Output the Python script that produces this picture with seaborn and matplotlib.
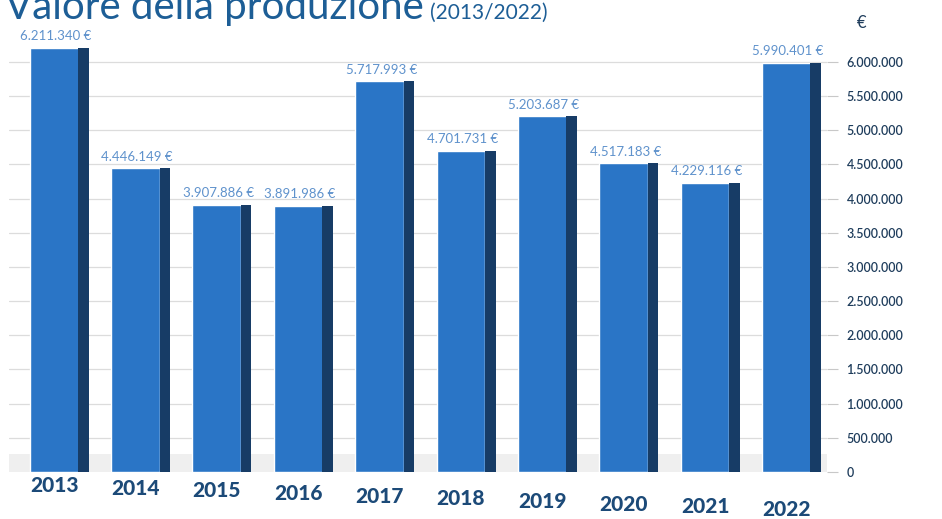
import numpy as np
import pandas as pd
import matplotlib
matplotlib.use("Agg")
import matplotlib.pyplot as plt
import seaborn as sns

years = ["2013", "2014", "2015", "2016", "2017", "2018", "2019", "2020", "2021", "2022"]
values = [6211340, 4446149, 3907886, 3891986, 5717993, 4701731, 5203687, 4517183, 4229116, 5990401]
tick_values = [0, 500000, 1000000, 1500000, 2000000, 2500000, 3000000,
               3500000, 4000000, 4500000, 5000000, 5500000, 6000000]


def fmt_it(v):
    return f"{v:,}".replace(",", ".")


df = pd.DataFrame({"anno": years, "valore": values})

sns.set_theme(style="white")
plt.rcParams["font.family"] = ["Lato", "DejaVu Sans"]

fig = plt.figure(figsize=(9.42, 5.19), dpi=100)
ax = fig.add_axes([0.01, 0.0906, 0.868, 0.867])

front = "#2a75c6"
side = "#173c66"

# soft floor band
ax.axhspan(0, 260000, color="#efefef", zorder=1, linewidth=0)

# front faces
sns.barplot(data=df, x="anno", y="valore", color=front, width=0.6,
            saturation=1, ax=ax, zorder=3)
# darker side faces to give depth
pos = np.arange(len(years))
ax.bar(pos + 0.36, values, width=0.13, color=side, zorder=3, linewidth=0)

ax.set_xlim(-0.55, 9.5)
ax.set_ylim(0, 6585000)

ax.yaxis.tick_right()
ax.set_yticks(tick_values)
ax.set_yticklabels([fmt_it(v) for v in tick_values], color="#1f3d5c",
                   fontsize=9, fontweight="semibold")
ax.tick_params(axis="y", length=8, width=0.8, color="#c8c8c8", pad=6, right=True)
ax.grid(axis="y", color="#dcdcdc", linewidth=0.9, zorder=0)
ax.set_xticks([])
ax.set_xlabel("")
ax.set_ylabel("")
for s in ax.spines.values():
    s.set_visible(False)

# value labels above bars
for i, v in enumerate(values):
    ax.annotate(f"{fmt_it(v)} €", (i + 0.02, v), xytext=(0, 4),
                textcoords="offset points", ha="center", va="bottom",
                fontsize=9.5, color="#5f92cc", fontweight="normal", zorder=5)

# year labels under bars
for i, y in enumerate(years):
    ax.annotate(y, (i, 0), xytext=(0, -3 - 1.9 * i), textcoords="offset points",
                ha="center", va="top", fontsize=15, fontweight="black",
                color="#1c4a78", annotation_clip=False)

# title, partly above the top edge
fig.text(0.005, 0.963, "Valore della produzione", fontsize=29,
         fontweight="normal", color="#1d5e96", ha="left", va="baseline")
fig.text(0.457, 0.963, "(2013/2022)", fontsize=15, fontweight="normal",
         color="#1d5e96", ha="left", va="baseline")

# currency unit above the axis labels
fig.text(0.915, 0.955, "€", fontsize=12, color="#1f3d5c", ha="center",
         va="center", fontweight="normal")

fig.savefig("out.png", dpi=100)
